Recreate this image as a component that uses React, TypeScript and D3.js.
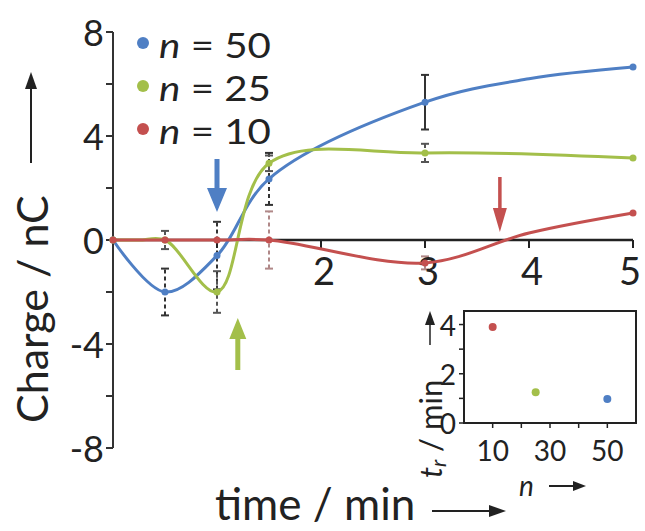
import React from "react";
import * as d3 from "d3";

// Charge (nC) versus time (min) for each chain length n
const nValues = [50, 25, 10];
const times50 = [0, 0.5, 1, 1.5, 3, 4, 5];
const charge50 = [0, -2.0, -0.6, 2.35, 5.3, 6.2, 6.65];
const times25 = [0, 0.25, 0.5, 1, 1.5, 3, 5];
const charge25 = [0, 0, 0, -2.0, 2.95, 3.35, 3.15];
const times10 = [0, 0.5, 1, 1.5, 3, 4, 5];
const charge10 = [0, 0, 0, 0, -0.88, 0.27, 1.04];

// Measurement times carrying error bars, with the half-widths per series
const errTimes = [0.5, 1, 1.5, 3];
const err50 = [0.9, 1.3, 1.0, 1.05];
const err25 = [0.35, 0.8, 0.3, 0.35];
const err10 = [0, 0, 1.1, 0.25];
const markTimes = [0, 0.5, 1, 1.5, 3, 5];

const seriesColors = ["#4f7fc4", "#a3bf4a", "#c4504f"];
const errColors = ["#333333", "#555555", "#b08888"];

// Reversal times marked by arrows on the main plot
const arrowTimes = [1.0, 1.2, 3.72];

// Inset: reversal time t_r versus n
const insetN = [10, 25, 50];
const insetTr = [3.9, 1.25, 0.97];
const insetColors = ["#c4504f", "#a3bf4a", "#4f7fc4"];

const yTickLabels = [-8, -4, 0, 4, 8];
const yTickAll = [-8, -6, -4, -2, 0, 2, 4, 6, 8];
const xTickAll = [1, 2, 3, 4, 5];
const xTickLabels = [2, 3, 4, 5];
const insetXTicks = [10, 20, 30, 40, 50];
const insetXLabels = [10, 30, 50];
const insetYTicks = [0, 1, 2, 3, 4];
const insetYLabels = [0, 2, 4];

const FONT = "Lato, 'Open Sans', sans-serif";

export default function App() {
  const W = 645;
  const H = 531;
  const x = d3.scaleLinear().domain([0, 5]).range([113, 633]);
  const y = d3.scaleLinear().domain([-8, 8]).range([448, 32]);

  const seriesT = [times50, times25, times10];
  const seriesV = [charge50, charge25, charge10];
  const errs = [err50, err25, err10];

  const valueAt = (si: number, t: number) => seriesV[si][seriesT[si].indexOf(t)];

  const line = d3
    .line<[number, number]>()
    .x((d) => x(d[0]))
    .y((d) => y(d[1]))
    .curve(d3.curveCatmullRom.alpha(0.5));

  const xi = d3.scaleLinear().domain([0, 60]).range([464, 636]);
  const yi = d3.scaleLinear().domain([0, 4.55]).range([423, 311]);

  // arrow polygon: tip at (tx, ty); dir = +1 pointing down, -1 pointing up
  const arrowPath = (tx: number, ty: number, len: number, dir: number, shaft: number, headW: number, headL: number) => {
    const base = ty - dir * headL;
    const tail = ty - dir * len;
    return `M${tx - shaft / 2},${tail} L${tx + shaft / 2},${tail} L${tx + shaft / 2},${base} L${tx + headW / 2},${base} L${tx},${ty} L${tx - headW / 2},${base} L${tx - shaft / 2},${base} Z`;
  };

  return (
    <svg width={W} height={H} style={{ display: "block", position: "absolute", left: 0, top: 0 }} fontFamily={FONT}>
      <rect width={W} height={H} fill="#fff" />

      {/* error bars */}
      {errs.map((e, si) =>
        errTimes.map((t, i) => {
          if (e[i] <= 0) return null;
          const v = valueAt(si, t);
          const lo = y(v - e[i]);
          const hi = y(v + e[i]);
          return (
            <g key={`e${si}-${i}`} stroke={errColors[si]} strokeWidth={2}>
              <line x1={x(t)} x2={x(t)} y1={lo} y2={hi} strokeDasharray={si === 0 && t === 3 ? undefined : "4,3"} />
              <line x1={x(t) - 4} x2={x(t) + 4} y1={lo} y2={lo} />
              <line x1={x(t) - 4} x2={x(t) + 4} y1={hi} y2={hi} />
            </g>
          );
        })
      )}

      {/* y axis */}
      <line x1={113} x2={113} y1={y(8)} y2={y(-8)} stroke="#333" strokeWidth={2} />
      {yTickAll.map((v) => (
        <line key={`yt${v}`} x1={106} x2={113} y1={y(v)} y2={y(v)} stroke="#333" strokeWidth={2} />
      ))}
      {yTickLabels.map((v) => (
        <text key={`yl${v}`} x={104} y={y(v)} textAnchor="end" dominantBaseline="central" fontSize={36} fill="#222">
          {v < 0 ? `-${Math.abs(v)}` : v}
        </text>
      ))}

      {/* x axis along zero */}
      <line x1={x(0)} x2={x(5)} y1={y(0)} y2={y(0)} stroke="#222" strokeWidth={2.5} />
      {xTickAll.map((v) => (
        <line key={`xt${v}`} x1={x(v)} x2={x(v)} y1={y(0)} y2={y(0) + 8} stroke="#222" strokeWidth={2} />
      ))}
      {xTickLabels.map((v) => (
        <text key={`xl${v}`} x={Math.min(x(v) + 3, 630)} y={y(0) + 45} textAnchor="middle" fontSize={38} fill="#222">
          {v}
        </text>
      ))}

      {/* series curves */}
      {seriesV.map((s, si) => (
        <g key={`s${si}`}>
          <path d={line(seriesT[si].map((t, i) => [t, s[i]]) as [number, number][]) || ""} fill="none" stroke={seriesColors[si]} strokeWidth={3} />
          {markTimes.map((t) => (
            <circle key={t} cx={x(t)} cy={y(valueAt(si, t))} r={3.5} fill={seriesColors[si]} />
          ))}
        </g>
      ))}

      {/* reversal arrows */}
      <path d={arrowPath(x(arrowTimes[0]), 212, 53, 1, 5, 20, 24)} fill={seriesColors[0]} />
      <path d={arrowPath(x(arrowTimes[1]), 318, 52, -1, 5, 17, 21)} fill={seriesColors[1]} />
      <path d={arrowPath(x(arrowTimes[2]), 232, 55, 1, 3.5, 14, 24)} fill={seriesColors[2]} />

      {/* legend */}
      {nValues.map((n, i) => (
        <g key={`lg${n}`} transform={`translate(143, ${43 + i * 43})`}>
          <circle cx={0} cy={0} r={6} fill={seriesColors[i]} />
          <text x={0} y={1} transform="translate(16, 0) scale(1.15, 1)" dominantBaseline="central" fontSize={35} fill="#222">
            <tspan fontStyle="italic">n</tspan>
            <tspan> = {n}</tspan>
          </text>
        </g>
      ))}

      {/* y axis title */}
      <g transform="translate(31, 423) rotate(-90)">
        <text x={0} y={0} dominantBaseline="central" fontSize={43} fill="#222">
          Charge / nC
        </text>
        <line x1={260} x2={338} y1={0} y2={0} stroke="#222" strokeWidth={2} />
        <path d="M351,0 L334,-6 L334,6 Z" fill="#222" />
      </g>

      {/* x axis title */}
      <text x={215} y={520} fontSize={44} fill="#222">
        time / min
      </text>
      <line x1={432} x2={492} y1={511} y2={511} stroke="#222" strokeWidth={2} />
      <path d="M506,511 L489,505 L489,517 Z" fill="#222" />

      {/* inset */}
      <rect x={xi(0)} y={yi(4.55)} width={xi(60) - xi(0)} height={yi(0) - yi(4.55)} fill="#fff" stroke="#222" strokeWidth={2} />
      {insetYTicks.map((v) => (
        <line key={`iyt${v}`} x1={xi(0) - 5} x2={xi(0)} y1={yi(v)} y2={yi(v)} stroke="#222" strokeWidth={1.5} />
      ))}
      {insetYLabels.map((v) => (
        <text key={`iyl${v}`} x={xi(0) - 8} y={yi(v)} textAnchor="end" dominantBaseline="central" fontSize={28} fill="#222">
          {v}
        </text>
      ))}
      {insetXTicks.map((v) => (
        <line key={`ixt${v}`} x1={xi(v)} x2={xi(v)} y1={yi(0)} y2={yi(0) + 5} stroke="#222" strokeWidth={1.5} />
      ))}
      {insetXLabels.map((v) => (
        <text key={`ixl${v}`} x={xi(v)} y={yi(0) + 38} textAnchor="middle" fontSize={28} fill="#222">
          {v}
        </text>
      ))}
      {insetN.map((n, i) => (
        <circle key={`ip${n}`} cx={xi(n)} cy={yi(insetTr[i])} r={4} fill={insetColors[i]} />
      ))}
      <g transform="translate(430, 478) rotate(-90)">
        <text x={0} y={0} dominantBaseline="central" fontSize={31} fill="#222">
          <tspan fontStyle="italic">t</tspan>
          <tspan fontStyle="italic" fontSize={21} dy={7}>r</tspan>
          <tspan dy={-7}> / min</tspan>
        </text>
        <line x1={133} x2={155} y1={0} y2={0} stroke="#222" strokeWidth={1.5} />
        <path d="M167,0 L153,-5 L153,5 Z" fill="#222" />
      </g>
      <text x={519} y={496} fontSize={28} fontStyle="italic" fill="#222">
        n
      </text>
      <line x1={549} x2={575} y1={486} y2={486} stroke="#222" strokeWidth={2} />
      <path d="M586,486 L573,481 L573,491 Z" fill="#222" />
    </svg>
  );
}
